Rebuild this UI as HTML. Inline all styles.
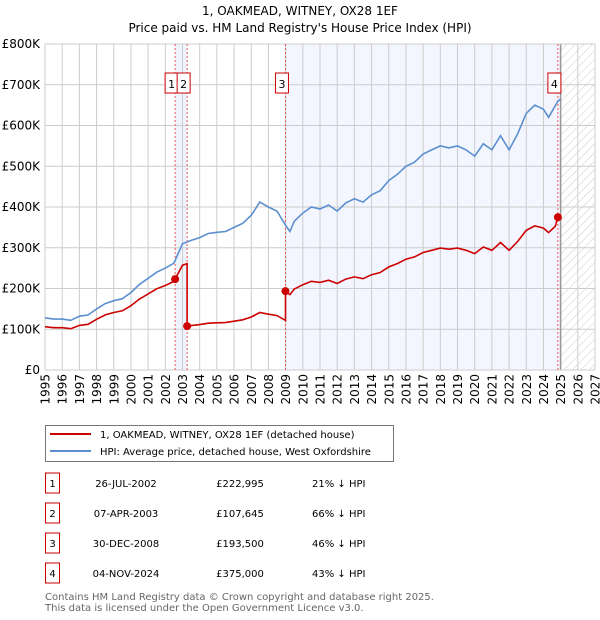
<!DOCTYPE html>
<html><head><meta charset="utf-8"><style>
body{margin:0;background:#fff;font-family:"DejaVu Sans","Liberation Sans",sans-serif;}
#wrap{position:relative;width:600px;height:620px;overflow:hidden;}
svg text{font-family:"DejaVu Sans","Liberation Sans",sans-serif;}
</style></head><body>
<div id="wrap">
<svg id="chart" width="600" height="620" style="position:absolute;left:0;top:0">
<defs><pattern id="hatch" width="6" height="6" patternUnits="userSpaceOnUse" patternTransform="rotate(45)"><line x1="0" y1="0" x2="0" y2="6" stroke="#ccc" stroke-width="1"/></pattern></defs>
<text x="300" y="15" text-anchor="middle" font-size="12">1, OAKMEAD, WITNEY, OX28 1EF</text>
<text x="300" y="32" text-anchor="middle" font-size="12">Price paid vs. HM Land Registry's House Price Index (HPI)</text>
<g id="plot"></g>
</svg>
<svg width="600" height="620" style="position:absolute;left:0;top:0;pointer-events:none">
<rect x="45.5" y="425.5" width="348" height="36" fill="#fff" stroke="#777"/>
<line x1="50" y1="434" x2="91" y2="434" stroke="#cc0000" stroke-width="2"/>
<text x="100" y="438" font-size="10">1, OAKMEAD, WITNEY, OX28 1EF (detached house)</text>
<line x1="50" y1="451" x2="91" y2="451" stroke="#5b8fd0" stroke-width="2"/>
<text x="100" y="455" font-size="10">HPI: Average price, detached house, West Oxfordshire</text>
<g id="table" font-size="10"></g>
<text x="45" y="600" font-size="10" fill="#666">Contains HM Land Registry data © Crown copyright and database right 2025.</text>
<text x="45" y="611" font-size="10" fill="#666">This data is licensed under the Open Government Licence v3.0.</text>
</svg>
</div>
<script>
const hpiYears=[1995,1995.5,1996,1996.5,1997,1997.5,1998,1998.5,1999,1999.5,2000,2000.5,2001,2001.5,2002,2002.5,2003,2003.5,2004,2004.5,2005,2005.5,2006,2006.5,2007,2007.5,2008,2008.5,2009,2009.25,2009.5,2010,2010.5,2011,2011.5,2012,2012.5,2013,2013.5,2014,2014.5,2015,2015.5,2016,2016.5,2017,2017.5,2018,2018.5,2019,2019.5,2020,2020.5,2021,2021.5,2022,2022.5,2023,2023.5,2024,2024.3,2024.84,2025];
const hpiValues=[128,125,125,122,132,135,150,163,170,175,190,210,225,240,250,262,310,318,325,335,338,340,350,360,380,412,400,390,355,340,365,385,400,395,405,390,410,420,412,430,440,465,480,500,510,530,540,550,545,550,540,525,555,540,575,540,580,630,650,640,620,660,665];
const saleLabels=["1","2","3","4"];
const saleYears=[2002.57,2003.27,2008.99,2024.84];
const salePrices=[222995,107645,193500,375000];
const saleDates=["26-JUL-2002","07-APR-2003","30-DEC-2008","04-NOV-2024"];
const salePriceText=["£222,995","£107,645","£193,500","£375,000"];
const saleHpiText=["21% ↓ HPI","66% ↓ HPI","46% ↓ HPI","43% ↓ HPI"];
const yTicks=[0,100,200,300,400,500,600,700,800];
const yTickLabels=["£0","£100K","£200K","£300K","£400K","£500K","£600K","£700K","£800K"];
const xTicks=[1995,1996,1997,1998,1999,2000,2001,2002,2003,2004,2005,2006,2007,2008,2009,2010,2011,2012,2013,2014,2015,2016,2017,2018,2019,2020,2021,2022,2023,2024,2025,2026,2027];

const L=45,R=595,T=44,B=370;
const X=y=>L+(y-1995)/(2027-1995)*(R-L);
const Y=v=>B-v/800*(B-T);
const NS="http://www.w3.org/2000/svg";
const g=document.getElementById('plot');
function mk(tag,attrs,parent){const e=document.createElementNS(NS,tag);for(const k in attrs)e.setAttribute(k,attrs[k]);(parent||g).appendChild(e);return e;}
function hpiAt(y){for(let i=0;i<hpiYears.length-1;i++){if(y<=hpiYears[i+1]){const t=(y-hpiYears[i])/(hpiYears[i+1]-hpiYears[i]);return hpiValues[i]+t*(hpiValues[i+1]-hpiValues[i]);}}return hpiValues[hpiValues.length-1];}

let bg=mk('rect',{x:L,y:T,width:R-L,height:B-T,fill:'#fff'});


let s1=mk('rect',{x:X(saleYears[0]),y:T,width:X(saleYears[1])-X(saleYears[0]),height:B-T,fill:'#eef3fc'});


let s2=mk('rect',{x:X(saleYears[2]),y:T,width:X(2025)-X(saleYears[2]),height:B-T,fill:'#f3f6fe'});


let h=mk('rect',{x:X(2025),y:T,width:R-X(2025),height:B-T,fill:'url(#hatch)'});


yTicks.forEach((v,i)=>{
 let l=mk('line',{x1:L,x2:R,y1:Y(v),y2:Y(v),stroke:'#ccc','stroke-width':1});
 
 
 let t=mk('text',{x:40,y:Y(v)+4,'text-anchor':'end','font-size':12});
 t.textContent=yTickLabels[i];
 
 
});
xTicks.forEach(yr=>{
 let l=mk('line',{x1:X(yr),x2:X(yr),y1:T,y2:B,stroke:'#ccc','stroke-width':1});
 
 
 let t=mk('text',{x:0,y:0,'text-anchor':'end','font-size':12,transform:`translate(${X(yr)+4.5},${B+4}) rotate(-90)`});
 t.textContent=yr;
 
 
});
let vl=mk('line',{x1:X(2025),x2:X(2025),y1:T,y2:B,stroke:'#999','stroke-width':1.5});


let fr=mk('rect',{x:L,y:T,width:R-L,height:B-T,fill:'none',stroke:'#ccc'});



saleYears.forEach((sy,i)=>{
 let l=mk('line',{x1:X(sy),x2:X(sy),y1:T,y2:B,stroke:'#e55','stroke-width':1,'stroke-dasharray':'2,2'});
 
 
 let bx=X(sy)-10;
 let r=mk('rect',{x:bx,y:73,width:13,height:20,fill:'#fff',stroke:'#cc0000'});
 
 
 let t=mk('text',{x:bx+6.5,y:88,'text-anchor':'middle','font-size':11});
 t.textContent=saleLabels[i];
 
 
});

let hp=hpiYears.map((y,i)=>X(y).toFixed(1)+','+Y(hpiValues[i]).toFixed(1)).join(' ');
let hl=mk('polyline',{points:hp,fill:'none',stroke:'#5b8fd0','stroke-width':1.6});



let pts=[];
function seg(y0,y1,si){const f=salePrices[si]/1000/hpiAt(saleYears[si]);const ys=[y0,...hpiYears.filter(y=>y>y0&&y<y1),y1];ys.forEach(y=>pts.push([y,hpiAt(y)*f]));}
seg(1995,saleYears[1],0);
pts.push([saleYears[1],salePrices[1]/1000]);
seg(saleYears[1],saleYears[2],1);
pts.push([saleYears[2],salePrices[2]/1000]);
seg(saleYears[2],saleYears[3]-0.15,2);
pts.push([saleYears[3],salePrices[3]/1000]);
let pl=mk('polyline',{points:pts.map(p=>X(p[0]).toFixed(1)+','+Y(p[1]).toFixed(1)).join(' '),fill:'none',stroke:'#cc0000','stroke-width':1.6});


saleYears.forEach((sy,i)=>{
 let c=mk('circle',{cx:X(sy),cy:Y(salePrices[i]/1000),r:4,fill:'#cc0000'});
 
 
});

const tb=document.getElementById('table');
saleLabels.forEach((lab,i)=>{
 const cy=483+i*30;
 let r=mk('rect',{x:45.5,y:cy-10,width:14,height:20,fill:'#fff',stroke:'#cc0000'},tb);
 
 
 const cols=[[52.5,lab,'middle'],[126,saleDates[i],'middle'],[240,salePriceText[i],'middle'],[312,saleHpiText[i],'start']];
 cols.forEach(c=>{
  let t=mk('text',{x:c[0],y:cy+4,'text-anchor':c[2]},tb);
  t.textContent=c[1];
  
  
 });
});
</script>
</body></html>
